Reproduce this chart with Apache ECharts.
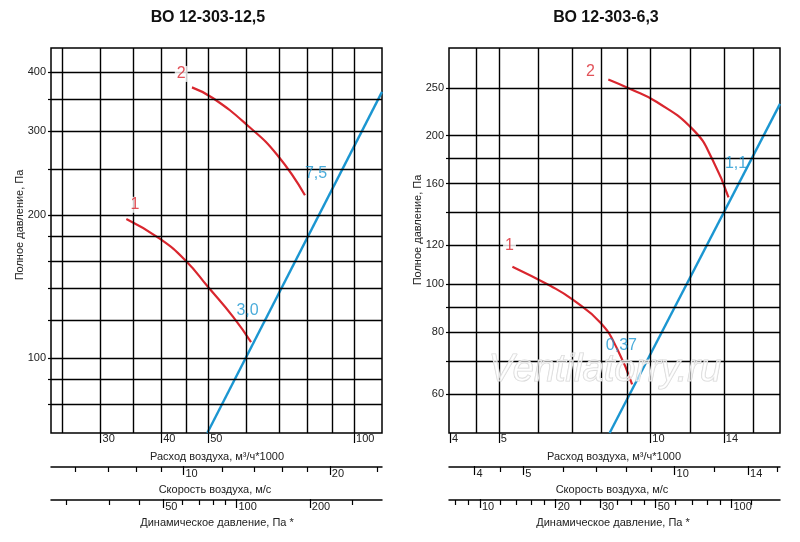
<!DOCTYPE html>
<html lang="ru">
<head>
<meta charset="UTF-8">
<title>ВО 12-303</title>
<style>
  html,body{margin:0;padding:0;background:#fff;}
  #chart{width:800px;height:542px;}
</style>
</head>
<body>
<div id="chart"></div>
<script src="https://cdn.jsdelivr.net/npm/echarts@6/dist/echarts.min.js"></script>
<script>
// ---- left panel: ВО 12-303-12,5 ----
var lGridX = [25, 30, 35, 40, 45, 50, 60, 70, 80, 90, 100]
var lGridY = [80, 90, 100, 120, 140, 160, 180, 200, 250, 300, 350, 400]
var lLabX = [30, 40, 50, 100]
var lLabY = [100, 200, 300, 400]
var lCurve1 = [[33.9,196],[39.8,178],[45,160],[50,141],[56.3,122],[61.3,108]]
var lCurve2 = [[46.3,371],[51.2,352],[60.4,308],[69.5,267],[79.2,220]]
var lBlue = [[49.8,69.5],[114.2,363]]
var lNotes = [[44,396,'2','r'],[35.3,210,'1','r'],[83.5,244,'7,5','b'],[60.3,126,'3,0','b']]
var lSpeedMajor = [10, 20]
var lSpeedMinor = [6, 7, 8, 9, 12, 14, 16, 18, 25]
var lDynMajor = [50, 100, 200]
var lDynMinor = [20, 30, 40, 60, 70, 80, 90, 300]

// ---- right panel: ВО 12-303-6,3 ----
var rGridX = [4.5, 5, 6, 7, 8, 9, 10, 12, 14, 16]
var rGridY = [60, 70, 80, 90, 100, 120, 140, 160, 180, 200, 250]
var rLabX = [4, 5, 10, 14]
var rLabY = [60, 80, 100, 120, 160, 200, 250]
var rCurve1 = [[5.32,108.6],[6.34,99.2],[7.0,93.2],[7.96,83.6],[8.6,73.9],[9.2,62.7]]
var rCurve2 = [[8.25,260],[9.1,249],[10.3,234],[12.2,205],[13.3,178.6],[14.3,150]]
var rBlue = [[8.3,50],[18.1,232]]
var rNotes = [[7.6,270,'2','r'],[5.25,120,'1','r'],[14.8,175.6,'1,1','b'],[8.76,75,'0,37','b']]
var rSpeedMajor = [4, 5, 10, 14]
var rSpeedMinor = [4.5, 6, 7, 8, 9, 12, 16]
var rDynMajor = [10, 20, 30, 50, 100]
var rDynMinor = [8, 9, 12, 14, 16, 18, 25, 35, 40, 45, 60, 70, 80, 90, 120]

var RED = '#d9262e', BLUE = '#1b96d1'
var FONT = '"Liberation Sans Narrow","Liberation Sans",Arial,sans-serif'

var grids = [], xAxes = [], yAxes = [], series = []

function lbl(extra) {
  return Object.assign({ color:'#222', fontSize:11, fontFamily:FONT }, extra)
}

function addPanel(left, xr, yr, gx, gy, labX, labY, c1, c2, blue, notes) {
  var g = grids.length
  grids.push({ left:left, top:48, width:331, height:385, show:true, borderColor:'#000', borderWidth:1.5 })
  // axis used for gridlines and curves
  xAxes.push({ type:'log', gridIndex:g, min:xr[0], max:xr[1], axisLine:{show:false},
    axisTick:{show:false}, axisLabel:{show:false}, splitLine:{show:false} })
  // labelled major ticks below the frame
  xAxes.push({ type:'log', gridIndex:g, min:xr[0], max:xr[1], position:'bottom',
    axisLine:{show:false}, splitLine:{show:false},
    axisTick:{show:true, inside:false, length:10, customValues:labX, lineStyle:{color:'#000', width:1.2}},
    axisLabel:lbl({show:true, customValues:labX, align:'left', padding:[0,0,0,2], margin:0, verticalAlign:'top'}) })
  yAxes.push({ type:'log', gridIndex:g, min:yr[0], max:yr[1], axisLine:{show:false}, splitLine:{show:false},
    axisTick:{show:true, length:3, customValues:gy, lineStyle:{color:'#000', width:1.2}},
    axisLabel:lbl({show:true, customValues:labY, margin:5}) })
  var xa = xAxes.length - 2, ya = yAxes.length - 1
  var ml = gx.map(function(v){ return { xAxis:v } }).concat(gy.map(function(v){ return { yAxis:v } }))
  series.push({ type:'line', xAxisIndex:xa, yAxisIndex:ya, data:[[xr[0], yr[0]]], symbol:'none', silent:true,
    lineStyle:{opacity:0}, z:1,
    markLine:{ silent:true, symbol:'none', animation:false, label:{show:false},
      lineStyle:{color:'#000', width:1.4, type:'solid'}, data:ml } })
  ;[c1, c2].forEach(function(c){
    series.push({ type:'line', xAxisIndex:xa, yAxisIndex:ya, data:c, smooth:0.5, symbol:'none',
      lineStyle:{color:RED, width:2.2}, z:3 })
  })
  series.push({ type:'line', xAxisIndex:xa, yAxisIndex:ya, data:blue, symbol:'none',
    lineStyle:{color:BLUE, width:2.4}, z:4 })
  series.push({ type:'scatter', xAxisIndex:xa, yAxisIndex:ya, symbolSize:0, z:5,
    data:notes.map(function(n){
      return { value:[n[0], n[1]], name:n[2],
        label:{ color: n[3] === 'r' ? RED : BLUE, backgroundColor: n[3] === 'r' ? '#fff' : 'transparent' } }
    }),
    label:{ show:true, position:'inside', formatter:'{b}', fontSize:16, fontFamily:FONT, padding:[0,2] } })
}

function addScale(left, top, range, major, minor) {
  var g = grids.length
  grids.push({ left:left, top:top, width:331, height:1, show:false })
  yAxes.push({ type:'value', gridIndex:g, show:false, min:0, max:1 })
  xAxes.push({ type:'log', gridIndex:g, min:range[0], max:range[1], position:'top',
    axisLine:{show:true, lineStyle:{color:'#000', width:1.5}}, splitLine:{show:false},
    axisTick:{show:true, inside:true, length:5, customValues:minor, lineStyle:{color:'#000', width:1.2}},
    axisLabel:{show:false} })
  xAxes.push({ type:'log', gridIndex:g, min:range[0], max:range[1], position:'top',
    axisLine:{show:false}, splitLine:{show:false},
    axisTick:{show:true, inside:true, length:9, customValues:major, lineStyle:{color:'#000', width:1.2}},
    axisLabel:lbl({show:true, inside:true, customValues:major, align:'left', padding:[0,0,0,2], margin:2, verticalAlign:'top'}) })
  series.push({ type:'line', xAxisIndex:xAxes.length - 1, yAxisIndex:yAxes.length - 1, data:[], symbol:'none' })
}

addPanel(51, [23.7, 114.2], [69.5, 449], lGridX, lGridY, lLabX, lLabY, lCurve1, lCurve2, lBlue, lNotes)
addPanel(449, [3.98, 18.1], [50, 301], rGridX, rGridY, rLabX, rLabY, rCurve1, rCurve2, rBlue, rNotes)
addScale(51, 466, [5.34, 25.6], lSpeedMajor, lSpeedMinor)
addScale(51, 499, [17.3, 396], lDynMajor, lDynMinor)
addScale(449, 466, [3.56, 16.2], rSpeedMajor, rSpeedMinor)
addScale(449, 499, [7.53, 156], rDynMajor, rDynMinor)

function txt(x, y, s, extra) {
  return { type:'text', x:x, y:y, silent:true,
    style:Object.assign({ text:s, fill:'#222', font:'11px ' + FONT, textAlign:'center', textVerticalAlign:'middle' }, extra) }
}

var myChart = echarts.init(document.getElementById('chart'))
myChart.setOption({
  animation:false,
  grid:grids, xAxis:xAxes, yAxis:yAxes, series:series,
  graphic:[
    txt(208, 18, 'ВО 12-303-12,5', { font:'bold 16px ' + FONT, fill:'#111' }),
    txt(606, 18, 'ВО 12-303-6,3', { font:'bold 16px ' + FONT, fill:'#111' }),
    txt(217, 457, 'Расход воздуха, м³/ч*1000'),
    txt(215, 490, 'Скорость воздуха, м/с'),
    txt(217, 523, 'Динамическое давление, Па *'),
    txt(614, 457, 'Расход воздуха, м³/ч*1000'),
    txt(612, 490, 'Скорость воздуха, м/с'),
    txt(613, 523, 'Динамическое давление, Па *'),
    { type:'text', x:20, y:225, rotation:Math.PI/2, silent:true,
      style:{ text:'Полное давление, Па', fill:'#222', font:'11px ' + FONT, textAlign:'center', textVerticalAlign:'middle' } },
    { type:'text', x:418, y:230, rotation:Math.PI/2, silent:true,
      style:{ text:'Полное давление, Па', fill:'#222', font:'11px ' + FONT, textAlign:'center', textVerticalAlign:'middle' } },
    { type:'text', x:605, y:370, silent:true, z:10,
      style:{ text:'Ventilatorry.ru', font:'italic 38px "Liberation Sans",Arial,sans-serif', fill:'rgba(255,255,255,0.6)',
        stroke:'#d6d6d6', lineWidth:1.2, textAlign:'center', textVerticalAlign:'middle' } }
  ]
})
</script>
</body>
</html>
